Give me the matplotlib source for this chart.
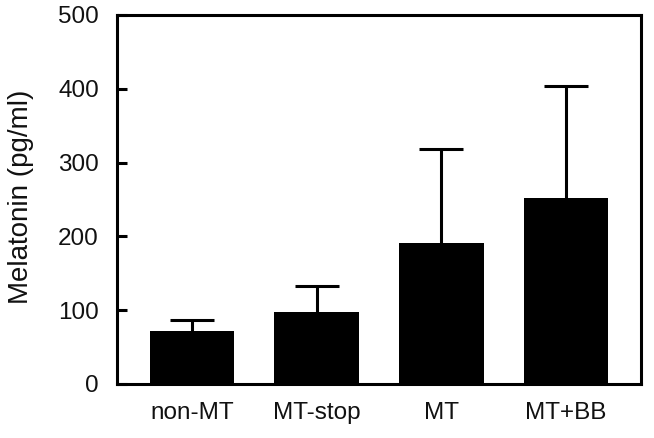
import matplotlib
matplotlib.use("Agg")
import matplotlib.pyplot as plt

categories = ["non-MT", "MT-stop", "MT", "MT+BB"]
means = [72, 98, 191, 252]
sem = [15, 35, 128, 152]
yticks = [0, 100, 200, 300, 400, 500]

plt.rcParams['font.family'] = ['Liberation Sans', 'DejaVu Sans']

fig = plt.figure(figsize=(6.54, 4.38), dpi=100)
ax = fig.add_axes([117/654, 1-384/438, (641-117)/654, (384-15)/438])

x = list(range(len(categories)))
ax.bar(x, means, width=0.68, color='black', zorder=2)
eb = ax.errorbar(x, means, yerr=[[0]*len(sem), sem], fmt='none', ecolor='black',
                 elinewidth=2.2, capsize=15.5, capthick=2.2, zorder=1)
caps = eb[1]
if len(caps) == 2:
    caps[0].set_visible(False)

ax.set_xlim(-0.603, 3.603)
ax.set_ylim(0, 500)
ax.set_yticks(yticks)
ax.set_xticks(x)
ax.set_xticklabels(categories)
ax.tick_params(axis='y', direction='in', length=7.2, width=2.2, pad=13, labelsize=17.5, labelcolor='#111111')
ax.tick_params(axis='x', length=0, pad=13, labelsize=17.5, labelcolor='#111111')
for s in ax.spines.values():
    s.set_linewidth(2.2)
fig.text(21/654, 1-196.5/438, "Melatonin (pg/ml)", fontsize=20, color='#111111',
         rotation=90, ha='center', va='center')

fig.savefig("out.png", dpi=100)
